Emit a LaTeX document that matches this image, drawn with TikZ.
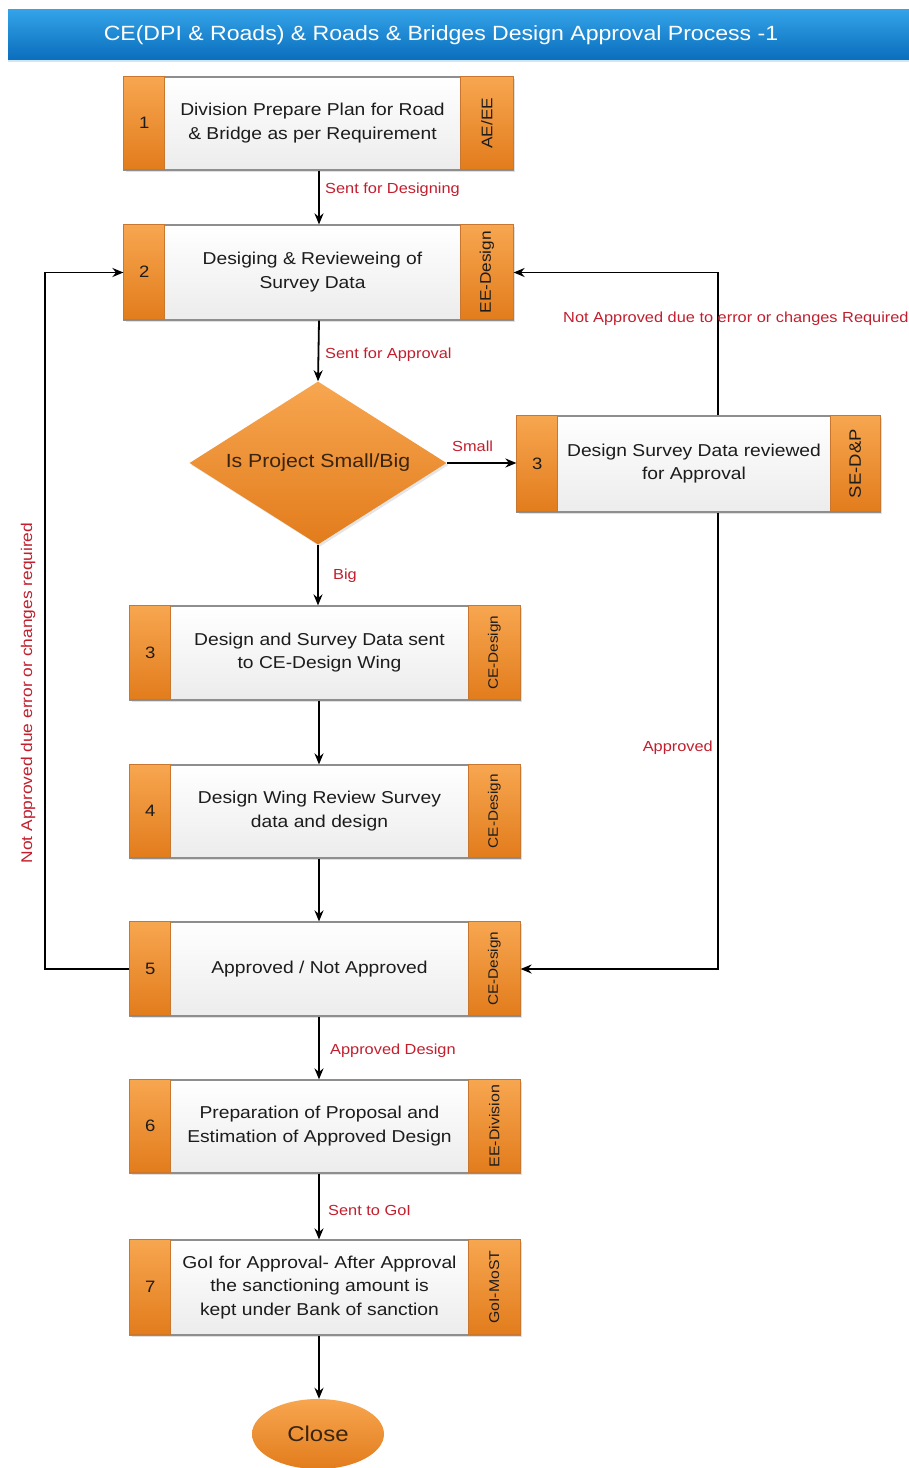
\documentclass[tikz,border=0pt]{standalone}
\usepackage{fontspec}
\setmainfont{Liberation Sans}[FakeStretch=1.12]
\usetikzlibrary{shapes.geometric,arrows.meta,shadows,calc}

\definecolor{orangeA}{HTML}{F7A650}
\definecolor{orangeB}{HTML}{E27C1C}
\definecolor{stripline}{HTML}{C9772E}
\definecolor{boxgray}{HTML}{8E8E8E}
\definecolor{paleface}{HTML}{ECECEC}
\definecolor{labelred}{HTML}{C21F2E}
\definecolor{titleA}{HTML}{33A3E8}
\definecolor{titleB}{HTML}{0A6DBC}
\definecolor{titleedge}{HTML}{CFE6F6}
\definecolor{darktext}{HTML}{1C1C1C}
\definecolor{browntext}{HTML}{3A230F}

\newcommand{\rolesize}[1]{\fontsize{#1}{#1}\selectfont}

\tikzset{
  boxframe/.style={rectangle, draw=boxgray, line width=1.2pt, inner sep=0pt,
    top color=white, bottom color=paleface,
    drop shadow={shadow xshift=2pt, shadow yshift=-2pt, opacity=0.25}},
  numstrip/.style={rectangle, draw=stripline, line width=0.6pt, inner sep=0pt,
    top color=orangeA, bottom color=orangeB, minimum width=41pt,
    text=darktext, font=\fontsize{16.5}{16.5}\selectfont},
  rolestrip/.style={rectangle, draw=stripline, line width=0.6pt, inner sep=0pt,
    top color=orangeA, bottom color=orangeB, text=darktext},
  boxtext/.style={align=center, text=darktext, inner sep=0pt,
    font=\fontsize{17.2}{23.5}\selectfont},
  flowlabel/.style={text=labelred, inner sep=0pt, font=\fontsize{14.6}{14.6}\selectfont},
  arr/.style={draw=black, line width=1.8pt, -{Stealth[length=11pt,width=9pt]}},
  decision/.style={diamond, inner sep=0pt, draw=none,
    top color=orangeA, bottom color=orangeB,
    drop shadow={shadow xshift=2pt, shadow yshift=-2pt, opacity=0.2}},
  terminal/.style={ellipse, inner sep=0pt, draw=none,
    top color=orangeA, bottom color=orangeB},
}

% name, cx, cy, width, height, role strip width, number, text, role
\newcommand{\procbox}[9]{%
  \node[boxframe, minimum width=#4, minimum height=#5] (#1) at (#2,#3) {};
  \node[numstrip, minimum height=#5, anchor=north west] (#1-num) at (#1.north west) {#7};
  \node[rolestrip, minimum width=#6, minimum height=#5, anchor=north east] (#1-role) at (#1.north east) {\rotatebox{90}{#9}};
  \node[boxtext] (#1-text) at ($(#1-num.east)!0.5!(#1-role.west)$) {#8};
}

\begin{document}
\begin{tikzpicture}[x=1pt,y=-1pt]
  \useasboundingbox (0,0) rectangle (909,1468);
  \fill[white] (0,0) rectangle (909,1468);
  \clip (0,0) rectangle (909,1468);

  % title banner
  \node[rectangle, inner sep=0pt, minimum width=901pt, minimum height=51pt,
        top color=titleA, bottom color=titleB] (titlebar) at (458.5,35) {};
  \draw[titleedge, line width=2pt] (titlebar.south west) -- (titlebar.south east);
  \node[text=white, inner sep=0pt, font=\fontsize{20.6}{20.6}\selectfont] (titletext) at (441,35)
    {CE(DPI \& Roads) \& Roads \& Bridges Design Approval Process -1};

  % process steps
  \procbox{box1}{318.5}{123.5}{389pt}{93pt}{53pt}{1}
    {Division Prepare Plan for Road\\\& Bridge as per Requirement}{\rolesize{15.4}AE/EE}
  \procbox{box2}{318.5}{272.5}{389pt}{95pt}{53pt}{2}
    {Desiging \& Revieweing of\\Survey Data}{\rolesize{15.4}EE-Design}
  \procbox{boxsmall}{698.5}{464}{363pt}{96pt}{50pt}{3}
    {Design Survey Data reviewed\\for Approval}{\rolesize{16.5}SE-D\&P}
  \procbox{box3}{325}{653}{390pt}{94pt}{52pt}{3}
    {Design and Survey Data sent\\to CE-Design Wing}{\rolesize{13.7}CE-Design}
  \procbox{box4}{325}{811.5}{390pt}{93pt}{52pt}{4}
    {Design Wing Review Survey\\data and design}{\rolesize{13.7}CE-Design}
  \procbox{box5}{325}{969}{390pt}{94pt}{52pt}{5}
    {Approved / Not Approved}{\rolesize{13.7}CE-Design}
  \procbox{box6}{325}{1126.5}{390pt}{93pt}{52pt}{6}
    {Preparation of Proposal and\\Estimation of Approved Design}{\rolesize{14.2}EE-Division}
  \procbox{box7}{325}{1287.5}{390pt}{95pt}{52pt}{7}
    {GoI for Approval- After Approval\\the sanctioning amount is\\kept under Bank of sanction}{\rolesize{14.1}GoI-MoST}

  % decision and end
  \node[decision, minimum width=257pt, minimum height=163pt] (dia) at (318,463) {};
  \node[text=browntext, inner sep=0pt, font=\fontsize{19}{19}\selectfont] (diatext) at (dia.center) {Is Project Small/Big};
  \node[terminal, minimum width=132pt, minimum height=70pt] (close) at (318,1434) {};
  \node[text=browntext, inner sep=0pt, font=\fontsize{21.4}{21.4}\selectfont] (closetext) at (close.center) {Close};

  % routing points
  \coordinate (spine) at (319,0);
  \coordinate (rx) at (718,272.5);
  \coordinate (lx) at (45,969);

  % main flow
  \draw[arr] (box1.south -| spine) -- (box2.north -| spine);
  \draw[arr] (box2.south -| spine) -- (dia.north);
  \draw[arr] (dia.south) -- (box3.north -| dia.south);
  \draw[arr] (dia.east) -- (dia.east -| boxsmall.west);
  \draw[arr] (box3.south -| spine) -- (box4.north -| spine);
  \draw[arr] (box4.south -| spine) -- (box5.north -| spine);
  \draw[arr] (box5.south -| spine) -- (box6.north -| spine);
  \draw[arr] (box6.south -| spine) -- (box7.north -| spine);
  \draw[arr] (box7.south -| spine) -- (close.north -| spine);

  % return and approval loops
  \draw[arr] (boxsmall.north -| rx) -- (rx) -- (box2.east);
  \draw[arr] (boxsmall.south -| rx) -- (rx |- box5.east) -- (box5.east);
  \draw[arr] (box5.west) -- (lx) |- (box2.west);

  % connector labels
  \node[flowlabel, anchor=west] (lbl1) at (325,190) {Sent for Designing};
  \node[flowlabel, anchor=west] (lbl2) at (325,355) {Sent for Approval};
  \node[flowlabel, anchor=west] (lbl3) at (452,446) {Small};
  \node[flowlabel, anchor=west] (lbl4) at (333,576) {Big};
  \node[flowlabel, anchor=west] (lbl5) at (563,319) {Not Approved due to error or changes Required};
  \node[flowlabel, anchor=east] (lbl6) at (713,748) {Approved};
  \node[flowlabel, anchor=west] (lbl7) at (330,1051) {Approved Design};
  \node[flowlabel, anchor=west] (lbl8) at (328,1210) {Sent to GoI};
  \node[flowlabel, rotate=90, font=\fontsize{15.5}{15.5}\selectfont] (lbl9) at (28,693)
    {Not Approved due error or changes required};
\end{tikzpicture}
\end{document}
